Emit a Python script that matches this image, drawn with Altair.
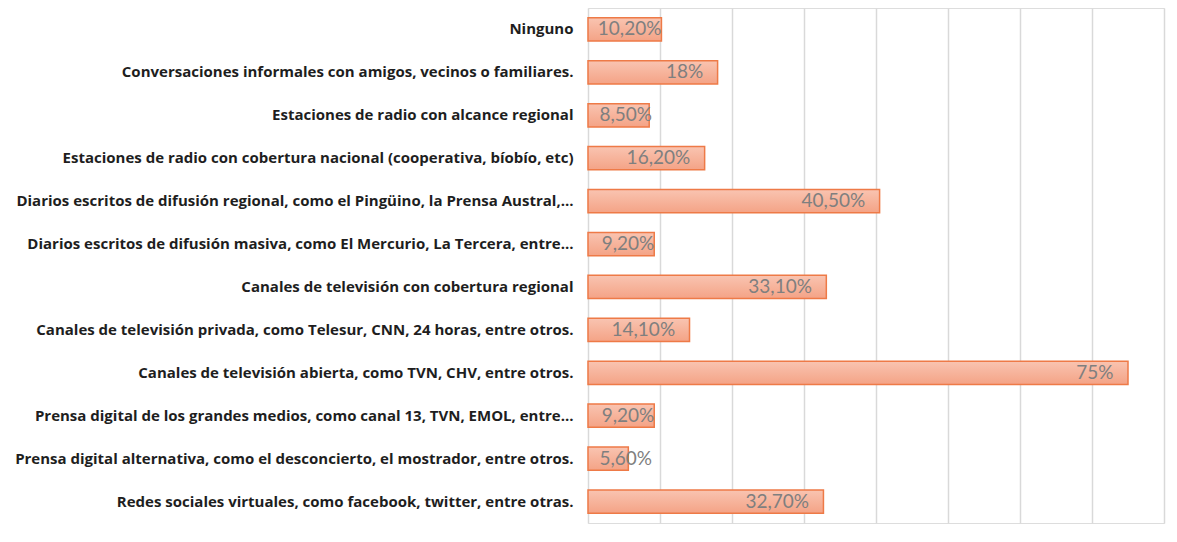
import altair as alt
import pandas as pd

categories = [
    "Ninguno",
    "Conversaciones informales con amigos, vecinos o familiares.",
    "Estaciones de radio con alcance regional",
    "Estaciones de radio con cobertura nacional (cooperativa, bíobío, etc)",
    "Diarios escritos de difusión regional, como el Pingüino, la Prensa Austral,...",
    "Diarios escritos de difusión masiva, como El Mercurio, La Tercera, entre...",
    "Canales de televisión con cobertura regional",
    "Canales de televisión privada, como Telesur, CNN, 24 horas, entre otros.",
    "Canales de televisión abierta, como TVN,  CHV, entre otros.",
    "Prensa digital de los grandes medios, como canal 13, TVN, EMOL, entre...",
    "Prensa digital alternativa,  como el desconcierto, el mostrador, entre otros.",
    "Redes sociales virtuales, como facebook, twitter, entre otras.",
]
values = [10.2, 18, 8.5, 16.2, 40.5, 9.2, 33.1, 14.1, 75, 9.2, 5.6, 32.7]
value_labels = ["10,20%", "18%", "8,50%", "16,20%", "40,50%", "9,20%",
                "33,10%", "14,10%", "75%", "9,20%", "5,60%", "32,70%"]

df = pd.DataFrame({"cat": categories, "value": values, "label": value_labels})

LABEL_FONT = "Open Sans"
VALUE_FONT = "Lato"

y = alt.Y("cat:N", sort=None, title=None,
          scale=alt.Scale(paddingInner=0.46, paddingOuter=0.23),
          axis=alt.Axis(domain=False, ticks=False, grid=False, labelLimit=0,
                        labelFont=LABEL_FONT, labelFontWeight="bold", labelFontSize=15,
                        labelColor="#1e1e1e", labelPadding=15))

x = alt.X("value:Q", title=None,
          scale=alt.Scale(domain=[0, 80], nice=False),
          axis=alt.Axis(values=[0, 10, 20, 30, 40, 50, 60, 70, 80], labels=False,
                        ticks=False, domain=False, grid=True,
                        gridColor="#d9d9d9", gridWidth=1.5))

bars = alt.Chart(df).mark_bar(
    color=alt.Gradient(gradient="linear",
                       stops=[alt.GradientStop(color="#f9c4b1", offset=0),
                              alt.GradientStop(color="#f4a386", offset=1)],
                       x1=0, x2=0, y1=0, y2=1),
    stroke="#ee7a47", strokeWidth=1.5,
).encode(x=x, y=y)

text = alt.Chart(df).transform_calculate(
    pos="datum.value >= 12 ? datum.value - 2 : max(datum.value, 8.9)"
).mark_text(align="right", baseline="middle", font=VALUE_FONT, fontSize=19,
            color="#7f7f7f").encode(
    x=alt.X("pos:Q"), y=alt.Y("cat:N", sort=None), text="label:N")

chart = alt.layer(bars, text).properties(
    width=576, height=515,
    autosize=alt.AutoSizeParams(type="none"),
    padding={"left": 580, "top": 0, "right": 5, "bottom": 5},
).configure_view(stroke=None).configure(background="white")

chart.save("out.html", embed_options={"renderer": "svg", "actions": False})
